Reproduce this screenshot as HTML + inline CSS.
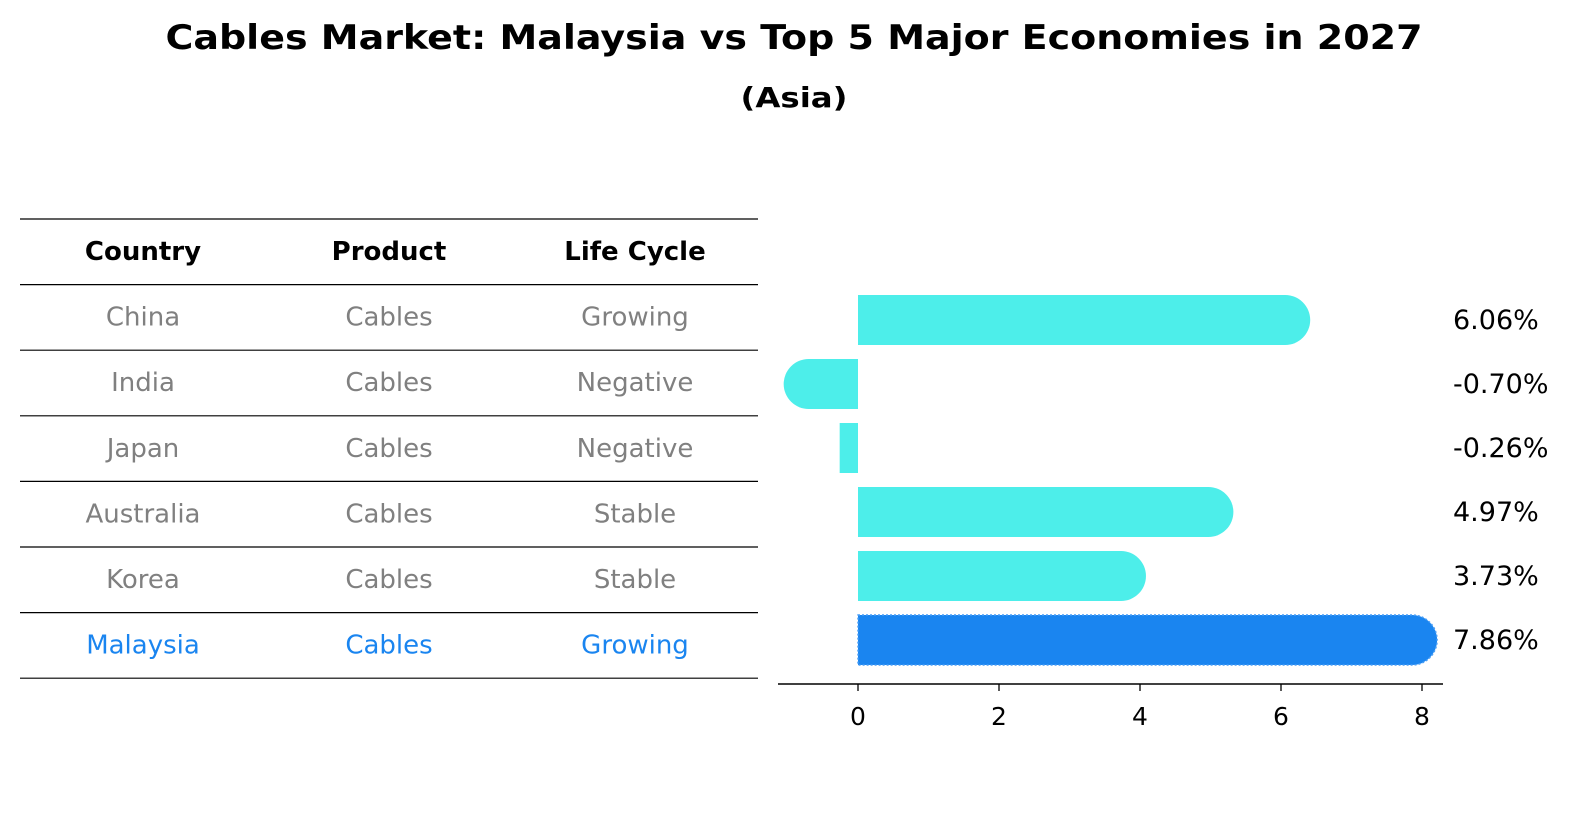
<!DOCTYPE html>
<html><head><meta charset="utf-8"><style>
body{margin:0;background:#fff;font-family:"Liberation Sans","DejaVu Sans",sans-serif;}
svg text{font-family:"DejaVu Sans","Liberation Sans",sans-serif;}
</style></head><body>
<svg id="c" width="1596" height="823" xmlns="http://www.w3.org/2000/svg">
<text x="794" y="49" text-anchor="middle" font-size="34" font-weight="bold" textLength="1257" lengthAdjust="spacingAndGlyphs">Cables Market: Malaysia vs Top 5 Major Economies in 2027</text>
<text x="794" y="107" text-anchor="middle" font-size="28" font-weight="bold" textLength="107" lengthAdjust="spacingAndGlyphs">(Asia)</text>
<g id="table"></g>
<g id="bars"></g>
</svg>
<script>
const countries=["China","India","Japan","Australia","Korea","Malaysia"];
const products=["Cables","Cables","Cables","Cables","Cables","Cables"];
const lifeCycles=["Growing","Negative","Negative","Stable","Stable","Growing"];
const growth=[6.06,-0.70,-0.26,4.97,3.73,7.86];
const valueLabels=["6.06%","-0.70%","-0.26%","4.97%","3.73%","7.86%"];
const xTicks=[0,2,4,6,8];
const NS="http://www.w3.org/2000/svg";
function mk(t,a,p){const e=document.createElementNS(NS,t);for(const k in a)e.setAttribute(k,a[k]);p.appendChild(e);return e;}
const tb=document.getElementById('table'),bg=document.getElementById('bars');
const rowY=i=>219+65.6*(i+1);
const colX=[143,389,635];
for(let i=0;i<=countries.length+1;i++){
  const l=mk('line',{x1:20,x2:758,y1:219+65.6*i,y2:219+65.6*i,stroke:'#000','stroke-width':1.2},tb);
  
  
}
["Country","Product","Life Cycle"].forEach((h,j)=>{
  const t=mk('text',{x:colX[j],y:260,'text-anchor':'middle','font-size':26,'font-weight':'bold'},tb);
  t.textContent=h;
  
  
});
countries.forEach((c,i)=>{
  const col=i===countries.length-1?'#1a85f0':'#808080';
  [c,products[i],lifeCycles[i]].forEach((v,j)=>{
    const t=mk('text',{x:colX[j],y:rowY(i)+41,'text-anchor':'middle','font-size':26,fill:col},tb);
    t.textContent=v;
    
    
  });
});
const x0=858,ppu=70.5;
const xs=v=>x0+v*ppu;
const yc=i=>320+64*i;
const H=50,R=25;
growth.forEach((v,i)=>{
  const last=i===growth.length-1;
  const fill=last?'#1a85f0':'#4deeea';
  const a=Math.min(xs(0),xs(v)),b=Math.max(xs(0),xs(v));
  const top=yc(i)-H/2;
  let d;
  if(Math.abs(v)>0.5){
    if(v>=0) d=`M${a},${top}H${b}A${R},${R} 0 0 1 ${b},${top+H}H${a}Z`;
    else d=`M${b},${top}H${a}A${R},${R} 0 0 0 ${a},${top+H}H${b}Z`;
  } else d=`M${a},${top}H${b}V${top+H}H${a}Z`;
  const p=mk('path',{d:d,fill:fill},bg);
  if(last){p.setAttribute('stroke','#4a9ef5');p.setAttribute('stroke-dasharray','2,2');p.setAttribute('stroke-width','1.5');}
  
  
  const t=mk('text',{x:1453,y:yc(i)+9,'font-size':27},bg);
  t.textContent=valueLabels[i];
  
  
});
const ax=mk('line',{x1:778,x2:1443,y1:684,y2:684,stroke:'#000','stroke-width':1.5},bg);


xTicks.forEach(v=>{
  const l=mk('line',{x1:xs(v),x2:xs(v),y1:684,y2:691,stroke:'#000','stroke-width':1.3},bg);
  
  
  const t=mk('text',{x:xs(v),y:725,'text-anchor':'middle','font-size':25},bg);
  t.textContent=v;
  
  
});
</script>
</body></html>
